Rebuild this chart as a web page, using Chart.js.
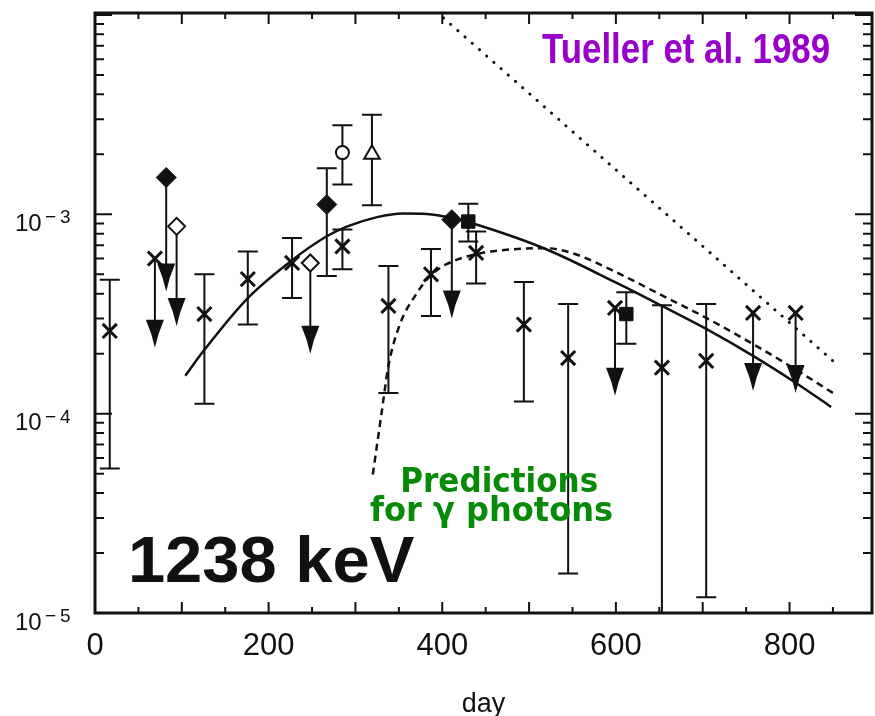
<!DOCTYPE html>
<html>
<head>
<meta charset="utf-8">
<script src="https://cdn.jsdelivr.net/npm/chart.js@4.4.1/dist/chart.umd.min.js"></script>
<style>
  html, body { margin: 0; padding: 0; background: #fff; overflow: hidden; }
  #lightCurve { display: block; }
</style>
</head>
<body>
<canvas id="lightCurve" width="885" height="716" style="width:885px;height:716px"></canvas>
<script>
const INK = '#111111';
const X_MAX = 895;
const Y_MIN = 1e-5;
const Y_MAX = 1.023e-2;

const xTickLabels = [0, 200, 400, 600, 800];
const yTickExponents = [-3, -4, -5];

// crosses (null error = upper limit drawn as arrow)
const crossDays = [17, 69, 126, 176, 227, 285, 338, 387, 439, 494, 545, 599, 653, 704, 758, 807];
const crossVals = [2.6e-4, 6.0e-4, 3.16e-4, 4.73e-4, 5.7e-4, 6.9e-4, 3.47e-4, 5.0e-4, 6.4e-4, 2.8e-4, 1.9e-4, 3.39e-4, 1.7e-4, 1.84e-4, 3.2e-4, 3.2e-4];
const crossLo = [5.3e-5, null, 1.12e-4, 2.8e-4, 3.8e-4, 5.3e-4, 1.27e-4, 3.09e-4, 4.5e-4, 1.15e-4, 1.58e-5, null, 8e-6, 1.2e-5, null, null];
const crossHi = [4.7e-4, null, 5.0e-4, 6.5e-4, 7.6e-4, 8.4e-4, 5.5e-4, 6.7e-4, 8.2e-4, 4.57e-4, 3.55e-4, null, 3.5e-4, 3.55e-4, null, null];
const crossLimit = [null, 2.14e-4, null, null, null, null, null, null, null, null, null, 1.23e-4, null, null, 1.3e-4, 1.27e-4];

// filled diamonds
const fDiamondDays = [82, 267, 411];
const fDiamondVals = [1.53e-3, 1.12e-3, 9.4e-4];
const fDiamondLo = [null, 4.9e-4, null];
const fDiamondHi = [null, 1.7e-3, null];
const fDiamondLimit = [4.1e-4, null, 3.0e-4];

// open diamonds
const oDiamondDays = [94, 248];
const oDiamondVals = [8.7e-4, 5.7e-4];
const oDiamondLimit = [2.75e-4, 2.0e-4];

// open circle and open triangle
const circleDays = [285];
const circleVals = [2.04e-3];
const circleLo = [1.41e-3];
const circleHi = [2.8e-3];
const triangleDays = [319];
const triangleVals = [2.0e-3];
const triangleLo = [1.11e-3];
const triangleHi = [3.16e-3];

// filled squares
const squareDays = [430, 612];
const squareVals = [9.2e-4, 3.16e-4];
const squareLo = [7.3e-4, 2.24e-4];
const squareHi = [1.13e-3, 4.07e-4];

// model curves
const solidDays = [104, 126, 176, 227, 267, 290, 325, 355, 382, 413, 442, 519, 602, 653, 704, 758, 807, 848];
const solidVals = [1.55e-4, 2.09e-4, 3.80e-4, 5.89e-4, 7.76e-4, 8.67e-4, 9.68e-4, 1.009e-3, 1.005e-3, 9.55e-4, 8.81e-4, 6.70e-4, 4.50e-4, 3.47e-4, 2.66e-4, 1.95e-4, 1.43e-4, 1.08e-4];
const dashedDays = [320, 330, 338, 351, 370, 387, 405, 439, 481, 519, 550, 600, 650, 700, 750, 800, 850];
const dashedVals = [4.95e-5, 1.0e-4, 1.74e-4, 2.79e-4, 3.98e-4, 4.95e-4, 5.62e-4, 6.31e-4, 6.68e-4, 6.76e-4, 6.38e-4, 5.13e-4, 3.98e-4, 3.09e-4, 2.34e-4, 1.74e-4, 1.27e-4];
const dottedDays = [393, 850];
const dottedVals = [1.04e-2, 1.84e-4];

function pts(days, vals) {
  return days.map((d, i) => ({ x: d, y: vals[i] }));
}

// error bars and upper-limit arrows per symbol group
const barGroups = [
  { days: crossDays, vals: crossVals, lo: crossLo, hi: crossHi, limit: crossLimit },
  { days: fDiamondDays, vals: fDiamondVals, lo: fDiamondLo, hi: fDiamondHi, limit: fDiamondLimit },
  { days: oDiamondDays, vals: oDiamondVals, limit: oDiamondLimit },
  { days: circleDays, vals: circleVals, lo: circleLo, hi: circleHi },
  { days: triangleDays, vals: triangleVals, lo: triangleLo, hi: triangleHi },
  { days: squareDays, vals: squareVals, lo: squareLo, hi: squareHi }
];

const errorBars = {
  id: 'errorBars',
  beforeDatasetsDraw(chart) {
    const { ctx, chartArea: a, scales: { x, y } } = chart;
    ctx.save();
    ctx.beginPath();
    ctx.rect(a.left, a.top, a.right - a.left, a.bottom - a.top);
    ctx.clip();
    ctx.strokeStyle = INK;
    ctx.fillStyle = INK;
    ctx.lineWidth = 2;
    const cap = 10;
    barGroups.forEach(g => {
      g.days.forEach((d, i) => {
        const px = x.getPixelForValue(d);
        if (g.lo && g.lo[i] != null) {
          const y1 = y.getPixelForValue(g.lo[i]);
          const y2 = y.getPixelForValue(g.hi[i]);
          ctx.beginPath();
          ctx.moveTo(px, y1); ctx.lineTo(px, y2);
          ctx.moveTo(px - cap, y1); ctx.lineTo(px + cap, y1);
          ctx.moveTo(px - cap, y2); ctx.lineTo(px + cap, y2);
          ctx.stroke();
        }
        if (g.limit && g.limit[i] != null) {
          const y0 = y.getPixelForValue(g.vals[i]);
          const tip = y.getPixelForValue(g.limit[i]);
          ctx.beginPath();
          ctx.moveTo(px, y0); ctx.lineTo(px, tip - 24);
          ctx.stroke();
          // arrow head, slightly concave sides
          ctx.beginPath();
          ctx.moveTo(px, tip);
          ctx.quadraticCurveTo(px - 3, tip - 14, px - 9, tip - 28);
          ctx.lineTo(px + 9, tip - 28);
          ctx.quadraticCurveTo(px + 3, tip - 14, px, tip);
          ctx.closePath();
          ctx.fill();
        }
      });
    });
    ctx.restore();
  }
};

function inkText(ctx, text, font, color, left, right, baseline) {
  ctx.save();
  ctx.font = font;
  ctx.fillStyle = color;
  ctx.textAlign = 'left';
  ctx.textBaseline = 'alphabetic';
  const m = ctx.measureText(text);
  const w = m.actualBoundingBoxLeft + m.actualBoundingBoxRight;
  ctx.translate(left, baseline);
  ctx.scale((right - left) / w, 1);
  ctx.fillText(text, m.actualBoundingBoxLeft, 0);
  ctx.restore();
}

const frameAndLabels = {
  id: 'frameAndLabels',
  afterDraw(chart) {
    const { ctx, chartArea: a, scales: { x, y } } = chart;
    ctx.save();
    ctx.strokeStyle = INK;
    ctx.lineWidth = 3;
    ctx.strokeRect(a.left, a.top, a.right - a.left, a.bottom - a.top);

    // inward ticks on all four sides
    ctx.lineWidth = 2;
    ctx.beginPath();
    for (let d = 50; d < X_MAX; d += 50) {
      const px = x.getPixelForValue(d);
      const len = d % 100 === 0 ? 11 : 6;
      ctx.moveTo(px, a.bottom); ctx.lineTo(px, a.bottom - len);
      ctx.moveTo(px, a.top); ctx.lineTo(px, a.top + len);
    }
    for (let e = -5; e <= -2; e++) {
      for (let m = 1; m <= 9; m++) {
        const v = m * Math.pow(10, e);
        if (v <= Y_MIN * 1.001 || v > Y_MAX) continue;
        const py = y.getPixelForValue(v);
        const len = m === 1 ? 17 : 9;
        ctx.moveTo(a.left, py); ctx.lineTo(a.left + len, py);
        ctx.moveTo(a.right, py); ctx.lineTo(a.right - len, py);
      }
    }
    ctx.stroke();

    // tick labels
    ctx.fillStyle = INK;
    ctx.textBaseline = 'alphabetic';
    ctx.textAlign = 'center';
    ctx.font = '31px "Liberation Sans", Arial, sans-serif';
    xTickLabels.forEach(d => ctx.fillText(String(d), x.getPixelForValue(d), a.bottom + 42));

    ctx.textAlign = 'left';
    yTickExponents.forEach(e => {
      const py = y.getPixelForValue(Math.pow(10, e));
      ctx.font = '24px "Liberation Sans", Arial, sans-serif';
      ctx.fillText('10', 15, py + 16.5);
      ctx.font = '19px "Liberation Sans", Arial, sans-serif';
      ctx.fillText('\u2212', 45, py + 9);
      ctx.fillText(String(-e), 60, py + 9);
    });

    // axis title
    ctx.textAlign = 'center';
    ctx.font = '27px "Liberation Sans", Arial, sans-serif';
    ctx.fillText('day', (a.left + a.right) / 2, 712);
    ctx.restore();

    inkText(ctx, 'Tueller et al. 1989', 'bold 42px "Liberation Sans", Arial, sans-serif', '#9900cc', 542, 829, 63);
    inkText(ctx, '1238 keV', 'bold 65px "Liberation Sans", Arial, sans-serif', INK, 132, 414, 582);
    inkText(ctx, 'Predictions', 'bold 34px "DejaVu Sans", sans-serif', '#078a07', 403, 597, 492);
    inkText(ctx, 'for \u03b3 photons', 'bold 34px "DejaVu Sans", sans-serif', '#078a07', 370, 612, 521);
  }
};

const markerBase = { showLine: false, order: 0, pointHoverRadius: 0 };

new Chart(document.getElementById('lightCurve'), {
  type: 'scatter',
  data: {
    datasets: [
      { ...markerBase, label: 'crosses', data: pts(crossDays, crossVals), pointStyle: 'crossRot', pointRadius: 10, pointBorderWidth: 3, borderColor: INK, backgroundColor: INK },
      { ...markerBase, label: 'filled diamonds', data: pts(fDiamondDays, fDiamondVals), pointStyle: 'rectRot', pointRadius: 10, pointBorderWidth: 1, borderColor: INK, backgroundColor: INK },
      { ...markerBase, label: 'open diamonds', data: pts(oDiamondDays, oDiamondVals), pointStyle: 'rectRot', pointRadius: 8.5, pointBorderWidth: 2, borderColor: INK, backgroundColor: '#fff' },
      { ...markerBase, label: 'open circle', data: pts(circleDays, circleVals), pointStyle: 'circle', pointRadius: 6.5, pointBorderWidth: 2, borderColor: INK, backgroundColor: '#fff' },
      { ...markerBase, label: 'open triangle', data: pts(triangleDays, triangleVals), pointStyle: 'triangle', pointRadius: 9, pointBorderWidth: 2, borderColor: INK, backgroundColor: '#fff' },
      { ...markerBase, label: 'filled squares', data: pts(squareDays, squareVals), pointStyle: 'rect', pointRadius: 9.5, pointBorderWidth: 1, borderColor: INK, backgroundColor: INK },
      { label: 'model', data: pts(solidDays, solidVals), showLine: true, order: 2, pointRadius: 0, borderColor: INK, borderWidth: 2.5, cubicInterpolationMode: 'monotone' },
      { label: 'gamma prediction', data: pts(dashedDays, dashedVals), showLine: true, order: 2, pointRadius: 0, borderColor: INK, borderWidth: 2.5, borderDash: [7, 5], cubicInterpolationMode: 'monotone' },
      { label: 'decay', data: pts(dottedDays, dottedVals), showLine: true, order: 2, pointRadius: 0, borderColor: INK, borderWidth: 3, borderDash: [0.1, 9.5], borderCapStyle: 'round' }
    ]
  },
  options: {
    responsive: false,
    devicePixelRatio: 1,
    animation: false,
    events: [],
    layout: { padding: { left: 95, right: 6, top: 11, bottom: 103 } },
    plugins: { legend: { display: false }, tooltip: { enabled: false } },
    scales: {
      x: { type: 'linear', min: 0, max: X_MAX, display: false },
      y: { type: 'logarithmic', min: Y_MIN, max: Y_MAX, display: false }
    }
  },
  plugins: [errorBars, frameAndLabels]
});
</script>
</body>
</html>
